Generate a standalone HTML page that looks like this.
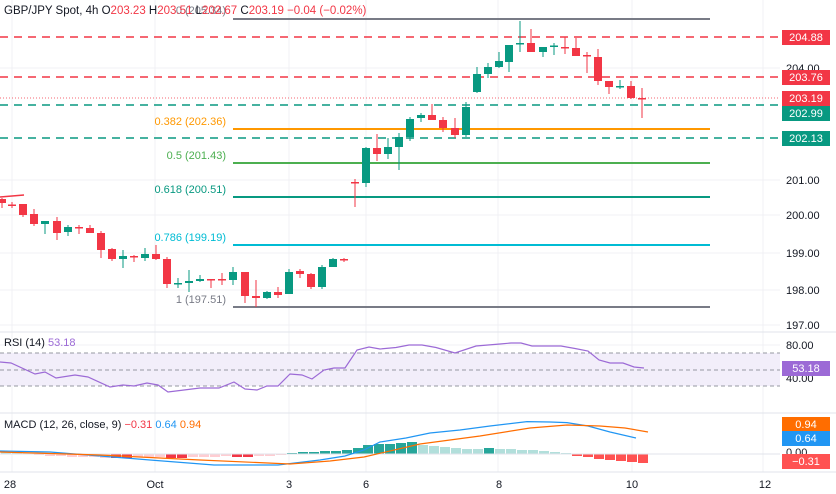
<!DOCTYPE html>
<html><head><meta charset="utf-8"><style>
html,body{margin:0;padding:0;background:#fff;width:836px;height:494px;overflow:hidden}
svg{display:block;font-family:"Liberation Sans",sans-serif}
</style></head><body>
<svg id="c" width="836" height="494" viewBox="0 0 836 494" xmlns="http://www.w3.org/2000/svg"></svg>
<script>
var s='';
function L(x1,y1,x2,y2,c,w,d){s+='<line x1="'+x1+'" y1="'+y1+'" x2="'+x2+'" y2="'+y2+'" stroke="'+c+'" stroke-width="'+(w||1)+'"'+(d?' stroke-dasharray="'+d+'"':'')+'/>';}
function R(x,y,w,h,c){s+='<rect x="'+x+'" y="'+y+'" width="'+w+'" height="'+h+'" fill="'+c+'"/>';}
function T(x,y,t,c,sz,a){s+='<text x="'+x+'" y="'+y+'" fill="'+c+'" font-size="'+(sz||11)+'"'+(a?' text-anchor="'+a+'"':'')+'>'+t+'</text>';}
var G='#089981',RD='#f23645';
[12,155,289,366,498,632,763].forEach(function(x){L(x,0,x,472,'#f0f1f4',1)});
[68,180,215,253,290,325].forEach(function(y){L(0,y,780,y,'#f0f1f4',1)});
[345,378].forEach(function(y){L(0,y,780,y,'#f0f1f4',1)});
L(0,332,836,332,'#e0e3eb',1);L(0,413,836,413,'#e0e3eb',1);L(0,472,836,472,'#e0e3eb',1);
L(0,37,780,37,RD,1.5,'8 6');L(0,77,780,77,RD,1.5,'8 6');
L(0,98,780,98,RD,0.7,'1 2');
L(0,105,780,105,G,1.5,'8 6');L(0,138,780,138,G,1.5,'8 6');
var fib=[[19,'#787b86','0 (205.34)'],[129,'#ff9800','0.382 (202.36)'],[163,'#4caf50','0.5 (201.43)'],[197,G,'0.618 (200.51)'],[245,'#00bcd4','0.786 (199.19)'],[307,'#787b86','1 (197.51)']];
fib.forEach(function(f,i){L(233,f[0],710,f[0],f[1],2);T(226,i==0?14:f[0]-4,f[2],f[1],11,'end');});
L(0,197,24,195,RD,1.5);
var cd=[[2,199,203,198,208],[12,204.5,205.5,202,208],[23,204,215,204,217],[34,214,224,209,226],[45,224,221,221,234],[57,221,233,217,240],[68,232,227,225,236],[79,227,228,225,234],[90,228,233,225,233],[101,233,250,231,258],[112,249,259,248,261],[123,259,256,250,268],[134,256,257,255,262],[145,258,254,248,261],[156,254,259,245,260],[167,259,284,257,288],[178,284,283,278,288],[189,283,281,270,292],[200,281,279,275,282],[211,279,280,279,288],[222,279,280,273,285],[233,280,272,267,285],[245,272,296,272,303],[256,296,298,280,307],[267,298,292,291,299],[278,292,295,287,298],[289,294,272,269,294],[300,271,274,269,278],[311,274,287,273,289],[322,287,267,265,289],[333,267,259,258,267],[344,259,260,258,262],
[355,182,183,179,207],[366,183,148,147,187],[377,148,154,134,161],[388,154,147,138,159],[399,147,137,133,170],[410,137,119,117,141],[421,118,115,113,122],[432,115,120,104,120],[443,120,128,117,132],[455,128,135,118,138],[466,135,107,102,137],[477,92,74,67,93],[488,74,67,63,78],[499,67,61,52,68],[509,62,45,45,72],[520,44,43,21,52],[531,43,52,29,52],[543,52,47,47,57],[554,46.5,45.5,43,55],[565,47,48,37,54],[576,48,56,38,56],[587,55,56,52,73],[598,57,81,49,85],[609,81,87,81,94],[620,87,86,80,89],[631,86,98,81,99],[642,98,99,88,118]];
cd.forEach(function(k){var col=k[2]<k[1]?G:RD;L(k[0],k[3],k[0],k[4],col,1);var t=Math.min(k[1],k[2]),h=Math.max(1.5,Math.abs(k[1]-k[2]));R(k[0]-4,t,8,h,col);});
s+='<text x="4" y="14" font-size="11.5" fill="#131722">GBP/JPY Spot, 4h  O<tspan fill="'+RD+'">203.23</tspan>  H<tspan fill="'+RD+'">203.51</tspan>  L<tspan fill="'+RD+'">202.67</tspan>  C<tspan fill="'+RD+'">203.19</tspan>  <tspan fill="'+RD+'">−0.04 (−0.02%)</tspan></text>';
[[68,'204.00'],[180,'201.00'],[215,'200.00'],[253,'199.00'],[290,'198.00'],[325,'197.00'],[345,'80.00'],[378,'40.00'],[452,'0.00']].forEach(function(a){T(786,a[0]+4,a[1],'#131722',11)});
function B(y,t,c){R(782,y-7,48,15,c);T(806,y+4,t,'#fff',11,'middle');}
B(37,'204.88',RD);B(77,'203.76',RD);B(98,'203.19',RD);B(113,'202.99',G);B(138,'202.13',G);
R(0,353,780,33,'#f2eefa');
L(0,353,780,353,'#9598a1',1,'4 3');L(0,370,780,370,'#9598a1',1,'4 3');L(0,386,780,386,'#9598a1',1,'4 3');
var rsi=[[0,362],[11,363],[35,374],[45,372],[56,378],[75,375],[88,377],[110,387],[123,385],[134,386],[147,383],[158,385],[168,392],[184,390],[200,388],[219,388],[234,382],[245,389],[257,390],[267,386],[278,386],[290,374],[302,375],[312,379],[324,370],[334,368],[345,368],[357,350],[369,347],[380,349],[396,347.5],[409,345],[422,345],[436,347.5],[455,353],[476,346],[500,344],[511,343],[521,343],[532,346],[561,346],[575,348.5],[588,351],[599,360],[610,363],[623,363],[634,367],[644,368]];
s+='<polyline fill="none" stroke="#9c6ad6" stroke-width="1.2" points="'+rsi.map(function(p){return p.join(',')}).join(' ')+'"/>';
T(4,346,'RSI (14)','#131722',11);T(48,346,'53.18','#9c6ad6',11);
B(368,'53.18','#9c6ad6');
var z=454;
var hb=[[6,-2,'#b2dfdb'],[17,-2,'#b2dfdb'],[28,-1,'#b2dfdb'],[39,1,'#ffcdd2'],[50,2,'#ffcdd2'],[61,2,'#ffcdd2'],[72,3,'#ffcdd2'],[83,3,'#ffcdd2'],[94,3,'#ffcdd2'],[105,4,'#ffcdd2'],[116,4,'#f23645'],[127,4,'#f23645'],[138,3,'#ffcdd2'],[149,3,'#ffcdd2'],[160,3,'#ffcdd2'],[171,4,'#f23645'],[182,4,'#f23645'],[193,3,'#ffcdd2'],[204,3,'#ffcdd2'],[215,3,'#ffcdd2'],[226,2,'#ffcdd2'],[237,3,'#f23645'],[248,3,'#f23645'],[259,2,'#ffcdd2'],[270,2,'#ffcdd2'],[281,1,'#ffcdd2'],[292,-1,'#26a69a'],[303,-2,'#26a69a'],[314,-2,'#26a69a'],[325,-3,'#26a69a'],[336,-3,'#26a69a'],[347,-4,'#26a69a'],[358,-6,'#26a69a'],[368,-9,'#26a69a'],[379,-10,'#26a69a'],[390,-10,'#26a69a'],[401,-11,'#26a69a'],[412,-12,'#26a69a'],[423,-9,'#b2dfdb'],[434,-8,'#b2dfdb'],[445,-7,'#b2dfdb'],[456,-6,'#b2dfdb'],[467,-5,'#b2dfdb'],[478,-5,'#b2dfdb'],[489,-6,'#26a69a'],[500,-5,'#b2dfdb'],[511,-5,'#b2dfdb'],[522,-4,'#b2dfdb'],[533,-4,'#b2dfdb'],[544,-3,'#b2dfdb'],[555,-2,'#b2dfdb'],[566,-1,'#b2dfdb'],[577,2,'#ff5252'],[588,3,'#ff5252'],[599,5,'#ff5252'],[610,6,'#ff5252'],[621,7,'#ff5252'],[632,8,'#ff5252'],[643,9,'#ff5252']];
hb.forEach(function(h){var y=h[1]<0?z+h[1]:z;R(h[0]-5,y,10,Math.abs(h[1]),h[2]);});
L(0,z,780,z,'#e0e3eb',1);
var bl=[[0,451],[50,452],[100,456],[150,460],[214,465],[278,465],[320,460],[345,456],[364,450],[380,442],[406,438],[430,433],[460,430],[490,426],[527,421.6],[550,422],[567,422.6],[588,426],[610,432],[636,438]];
var ol=[[0,452],[100,455],[200,460],[290,464],[330,461],[364,457],[420,444],[480,436],[530,428],[567,425],[600,426],[625,428],[648,432]];
s+='<polyline fill="none" stroke="#2196f3" stroke-width="1.2" points="'+bl.map(function(p){return p.join(',')}).join(' ')+'"/>';
s+='<polyline fill="none" stroke="#ff6d00" stroke-width="1.2" points="'+ol.map(function(p){return p.join(',')}).join(' ')+'"/>';
s+='<text x="4" y="428" font-size="11" fill="#131722">MACD (12, 26, close, 9) <tspan fill="#f23645">−0.31</tspan> <tspan fill="#2196f3">0.64</tspan> <tspan fill="#ff6d00">0.94</tspan></text>';
B(424,'0.94','#ff6d00');B(438,'0.64','#2196f3');B(461,'−0.31','#ff5252');
[[10,'28'],[155,'Oct'],[289,'3'],[366,'6'],[499,'8'],[632,'10'],[765,'12']].forEach(function(a){T(a[0],488,a[1],'#131722',11,'middle')});
document.getElementById('c').innerHTML=s;
</script>
</body></html>
